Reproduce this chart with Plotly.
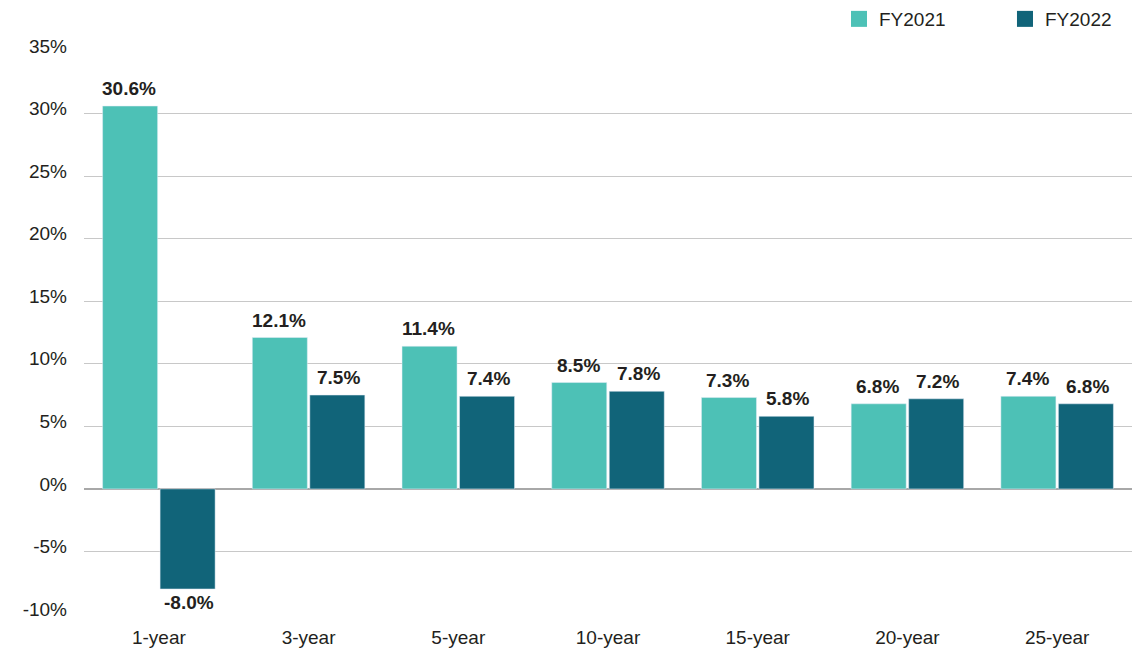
import plotly.graph_objects as go

categories = ["1-year", "3-year", "5-year", "10-year", "15-year", "20-year", "25-year"]
fy2021 = [30.6, 12.1, 11.4, 8.5, 7.3, 6.8, 7.4]
fy2022 = [-8.0, 7.5, 7.4, 7.8, 5.8, 7.2, 6.8]
series_names = ["FY2021", "FY2022"]
tick_vals = [-10, -5, 0, 5, 10, 15, 20, 25, 30, 35]
tick_text = [f"{v}%" for v in tick_vals]

FONT = "Liberation Sans, Arial, sans-serif"
TXT = "#231f20"
C1 = "#4DC1B6"
C2 = "#116479"

fig = go.Figure()
for name, vals, col in [(series_names[0], fy2021, C1), (series_names[1], fy2022, C2)]:
    fig.add_trace(go.Bar(name=name, x=categories, y=vals, marker_color=col,
                         showlegend=False, hoverinfo="x+y"))
# legend entries with larger square swatches
for name, col in [(series_names[0], C1), (series_names[1], C2)]:
    fig.add_trace(go.Scatter(name=name, x=[None], y=[None], mode="markers",
                             marker=dict(symbol="square", size=18, color=col),
                             showlegend=True))

annotations = []
for vals, shift in [(fy2021, -30), (fy2022, 30)]:
    for c, v in zip(categories, vals):
        pos = v >= 0
        annotations.append(dict(
            x=c, y=v, xref="x", yref="y", xshift=shift,
            yshift=5 if pos else -1, yanchor="bottom" if pos else "top",
            text=f"<b>{v:.1f}%</b>", showarrow=False,
            font=dict(family=FONT, size=19, color=TXT),
        ))

fig.update_layout(
    width=1140, height=655,
    margin=dict(l=76, r=16, t=43, b=49, autoexpand=False),
    paper_bgcolor="white", plot_bgcolor="white",
    barmode="group", bargap=0.232, bargroupgap=0.043,
    font=dict(family=FONT, size=19, color=TXT),
    showlegend=True,
    legend=dict(orientation="h", x=0.7204, xanchor="left", y=1.0568, yanchor="middle",
                font=dict(family=FONT, size=19, color=TXT),
                itemwidth=30, traceorder="normal", entrywidth=121,
                bgcolor="rgba(0,0,0,0)"),
    annotations=annotations,
)
fig.update_yaxes(
    range=[-10, 35], tickvals=tick_vals, ticktext=tick_text,
    showgrid=True, gridcolor="#c8c8c8", gridwidth=1,
    zeroline=True, zerolinecolor="#a8a8a8", zerolinewidth=2,
    ticks="", ticklabelstandoff=16, ticklabelshift=-5,
    tickfont=dict(family=FONT, size=19, color=TXT),
)
fig.update_xaxes(
    showgrid=False, ticks="", showline=False, ticklabelstandoff=10,
    tickfont=dict(family=FONT, size=19, color=TXT),
)

fig.write_html("out.html")
